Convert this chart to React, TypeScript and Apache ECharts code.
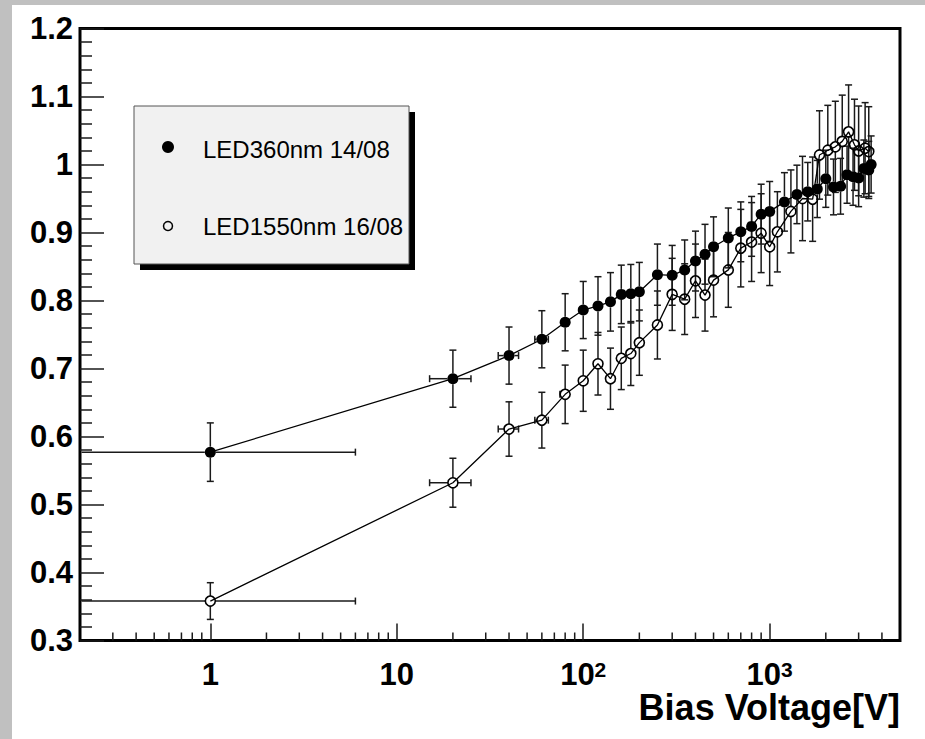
import React, { useEffect, useRef } from "react";
import * as echarts from "echarts";

// LED360nm 14/08 (filled markers)
const uvX = [1, 20, 40, 60, 80, 100, 120, 140, 160, 180, 200, 250, 300, 350, 400, 450, 500, 600, 700, 800, 900, 1000, 1200, 1400, 1600, 1800, 2000, 2200, 2400, 2600, 2800, 3000, 3200, 3400, 3500];
const uvY = [0.577, 0.685, 0.719, 0.743, 0.768, 0.786, 0.792, 0.798, 0.809, 0.81, 0.813, 0.838, 0.837, 0.845, 0.858, 0.868, 0.879, 0.892, 0.901, 0.909, 0.927, 0.931, 0.945, 0.956, 0.96, 0.964, 0.979, 0.967, 0.968, 0.985, 0.982, 0.98, 0.994, 0.992, 1.0];
const uvYErr = [0.043, 0.042, 0.042, 0.042, 0.042, 0.042, 0.043, 0.043, 0.043, 0.043, 0.043, 0.045, 0.044, 0.044, 0.044, 0.044, 0.044, 0.044, 0.044, 0.044, 0.044, 0.044, 0.043, 0.043, 0.043, 0.042, 0.042, 0.041, 0.041, 0.042, 0.042, 0.042, 0.042, 0.042, 0.042];
const uvXErr = [5, 5, 5, 5, 5, 5, 5, 5, 5, 5, 5, 5, 5, 5, 5, 5, 5, 5, 5, 5, 5, 5, 5, 5, 5, 5, 5, 5, 5, 5, 5, 5, 5, 5, 5];

// LED1550nm 16/08 (open markers)
const irX = [1, 20, 40, 60, 80, 100, 120, 140, 160, 180, 200, 250, 300, 350, 400, 450, 500, 600, 700, 800, 900, 1000, 1100, 1300, 1500, 1700, 1850, 2050, 2250, 2450, 2650, 2850, 3000, 3250, 3400];
const irY = [0.358, 0.532, 0.611, 0.624, 0.662, 0.682, 0.707, 0.685, 0.715, 0.722, 0.738, 0.764, 0.809, 0.802, 0.829, 0.808, 0.83, 0.845, 0.877, 0.886, 0.899, 0.879, 0.901, 0.931, 0.95, 0.949, 1.014, 1.021, 1.026, 1.034, 1.048, 1.029, 1.02, 1.024, 1.019];
const irYErr = [0.027, 0.036, 0.04, 0.041, 0.043, 0.045, 0.046, 0.045, 0.046, 0.047, 0.048, 0.05, 0.053, 0.052, 0.054, 0.053, 0.054, 0.055, 0.057, 0.058, 0.058, 0.057, 0.059, 0.061, 0.062, 0.062, 0.065, 0.066, 0.067, 0.068, 0.069, 0.067, 0.066, 0.067, 0.066];
const irXErr = [5, 5, 5, 5, 5, 5, 5, 5, 5, 5, 5, 5, 5, 5, 5, 5, 5, 5, 5, 5, 5, 5, 5, 5, 5, 5, 5, 5, 5, 5, 5, 5, 5, 5, 5];

const seriesNames = ["LED360nm 14/08", "LED1550nm 16/08"];
const xTitle = "Bias Voltage[V]";

// axes
const xMin = 0.2;
const xMax = 5000;
const yMin = 0.3;
const yMax = 1.2;
const yStep = 0.1;
const xLabelValues = [1, 10, 100, 1000];
const xLabelTexts = ["{b|1}", "{b|10}", "{b|10}{s|2}", "{b|10}{s|3}"];
const xMinorTicks = [0.3, 0.4, 0.5, 0.6, 0.7, 0.8, 0.9, 2, 3, 4, 5, 6, 7, 8, 9, 20, 30, 40, 50, 60, 70, 80, 90, 200, 300, 400, 500, 600, 700, 800, 900, 2000, 3000, 4000];

const FONT = '"Liberation Sans", Arial, Helvetica, sans-serif';

function errRender(r: number) {
  return (params: any, api: any) => {
    const x = api.value(0);
    const y = api.value(1);
    const ex = api.value(2);
    const ey = api.value(3);
    const c = api.coord([x, y]);
    const top = api.coord([x, y + ey]);
    const bot = api.coord([x, y - ey]);
    const right = api.coord([x + ex, y]);
    const cs = params.coordSys;
    const leftVal = x - ex;
    const left = leftVal > 0 ? api.coord([leftVal, y]) : [cs.x + 1.5, c[1]];
    const cap = 3.5;
    const style = { stroke: "#1a1a1a", lineWidth: 1.5 };
    const children: any[] = [];
    const seg = (x1: number, y1: number, x2: number, y2: number) =>
      children.push({ type: "line", shape: { x1, y1, x2, y2 }, style });
    if (c[1] - top[1] > r) {
      seg(c[0], c[1] - r, c[0], top[1]);
      seg(c[0] - cap, top[1], c[0] + cap, top[1]);
    }
    if (bot[1] - c[1] > r) {
      seg(c[0], c[1] + r, c[0], bot[1]);
      seg(c[0] - cap, bot[1], c[0] + cap, bot[1]);
    }
    if (right[0] - c[0] > r) {
      seg(c[0] + r, c[1], right[0], c[1]);
      seg(right[0], c[1] - cap, right[0], c[1] + cap);
    }
    if (c[0] - left[0] > r) {
      seg(c[0] - r, c[1], left[0], c[1]);
      if (leftVal > 0) seg(left[0], c[1] - cap, left[0], c[1] + cap);
    }
    return { type: "group", children };
  };
}

export default function App() {
  const ref = useRef<HTMLDivElement>(null);

  useEffect(() => {
    if (!ref.current) return;
    const chart = echarts.init(ref.current, undefined, { renderer: "svg" });

    const uvPts = uvX.map((x, i) => [x, uvY[i]]);
    const irPts = irX.map((x, i) => [x, irY[i]]);
    const uvErr = uvX.map((x, i) => [x, uvY[i], uvXErr[i], uvYErr[i]]);
    const irErr = irX.map((x, i) => [x, irY[i], irXErr[i], irYErr[i]]);

    chart.setOption({
      animation: false,
      title: {
        text: xTitle,
        right: 25,
        top: 692,
        padding: 0,
        textStyle: { fontFamily: FONT, fontSize: 36, fontWeight: "bold", color: "#000", lineHeight: 30 },
      },
      grid: {
        left: 80,
        top: 28.5,
        right: 25,
        bottom: 98.5,
        containLabel: false,
        outerBoundsMode: "none",
        show: true,
        borderColor: "#000",
        borderWidth: 3,
        backgroundColor: "transparent",
      },
      xAxis: {
        type: "log",
        logBase: 10,
        min: xMin,
        max: xMax,
        axisLine: { show: false },
        splitLine: { show: false },
        axisTick: { show: true, inside: true, length: 17, lineStyle: { color: "#1a1a1a", width: 1.5 } },
        axisLabel: {
          show: true,
          interval: 0,
          showMinLabel: false,
          showMaxLabel: false,
          margin: 18,
          verticalAlign: "top",
          formatter: (v: number) => {
            for (let i = 0; i < xLabelValues.length; i++) {
              if (Math.abs(Math.log10(v) - Math.log10(xLabelValues[i])) < 1e-6) return xLabelTexts[i];
            }
            return "";
          },
          rich: {
            b: { fontFamily: FONT, fontSize: 31, fontWeight: "bold", color: "#000" },
            s: { fontFamily: FONT, fontSize: 21, fontWeight: "bold", color: "#000", verticalAlign: "top", lineHeight: 14 },
          },
        },
      },
      yAxis: {
        type: "value",
        min: yMin,
        max: yMax,
        interval: yStep,
        axisLine: { show: false },
        splitLine: { show: false },
        axisTick: { show: true, inside: true, length: 24, lineStyle: { color: "#1a1a1a", width: 1.5 } },
        minorTick: { show: true, splitNumber: 5, length: 12, lineStyle: { color: "#1a1a1a", width: 1.5 } },
        axisLabel: {
          margin: 7,
          fontFamily: FONT,
          fontSize: 31,
          fontWeight: "bold",
          color: "#000",
          padding: [10, 0, 0, 0],
          formatter: (v: number) => String(Math.round(v * 10) / 10),
        },
      },
      graphic: [
        { type: "rect", z: 100, shape: { x: 140, y: 112, width: 275, height: 158 }, style: { fill: "#000" } },
        { type: "rect", z: 101, shape: { x: 134, y: 106, width: 275, height: 158 }, style: { fill: "#f1f1f1", stroke: "#555", lineWidth: 1 } },
        { type: "circle", z: 102, shape: { cx: 168, cy: 147, r: 6 }, style: { fill: "#000" } },
        { type: "circle", z: 102, shape: { cx: 168, cy: 226, r: 4.5 }, style: { fill: "none", stroke: "#000", lineWidth: 1.5 } },
        {
          type: "text",
          z: 102,
          x: 203,
          y: 149,
          style: { text: seriesNames[0], fill: "#000", font: `24px ${FONT}`, align: "left", verticalAlign: "middle" },
        },
        {
          type: "text",
          z: 102,
          x: 203,
          y: 226,
          style: { text: seriesNames[1], fill: "#000", font: `24px ${FONT}`, align: "left", verticalAlign: "middle" },
        },
      ],
      series: [
        {
          type: "custom",
          name: "xMinorTicks",
          silent: true,
          z: 1,
          encode: { x: 0, y: 1 },
          data: xMinorTicks.map((v) => [v, yMin]),
          renderItem: (params: any, api: any) => {
            const p = api.coord([api.value(0), api.value(1)]);
            return {
              type: "line",
              shape: { x1: p[0], y1: p[1], x2: p[0], y2: p[1] - 8 },
              style: { stroke: "#1a1a1a", lineWidth: 1.5 },
            };
          },
        },
        {
          type: "custom",
          name: seriesNames[0] + " errors",
          silent: true,
          z: 2,
          encode: { x: 0, y: 1 },
          data: uvErr,
          renderItem: errRender(5.5),
        },
        {
          type: "custom",
          name: seriesNames[1] + " errors",
          silent: true,
          z: 2,
          encode: { x: 0, y: 1 },
          data: irErr,
          renderItem: errRender(5),
        },
        {
          type: "line",
          name: seriesNames[0],
          z: 3,
          data: uvPts,
          symbol: "circle",
          symbolSize: 11,
          itemStyle: { color: "#000" },
          lineStyle: { color: "#000", width: 1.3 },
        },
        {
          type: "line",
          name: seriesNames[1],
          z: 4,
          data: irPts,
          symbol: "circle",
          symbolSize: 10,
          itemStyle: { color: "rgba(255,255,255,0)", borderColor: "#000", borderWidth: 1.6 },
          lineStyle: { color: "#000", width: 1.3 },
        },
      ],
    });

    return () => chart.dispose();
  }, []);

  return (
    <div style={{ position: "fixed", left: 0, top: 0, width: 925, height: 739, background: "#c0c0c0" }}>
      <div style={{ position: "absolute", left: 12, top: 5, right: 0, bottom: 0, background: "#fff" }} />
      <div ref={ref} style={{ position: "absolute", left: 0, top: 0, width: 925, height: 739 }} />
    </div>
  );
}
